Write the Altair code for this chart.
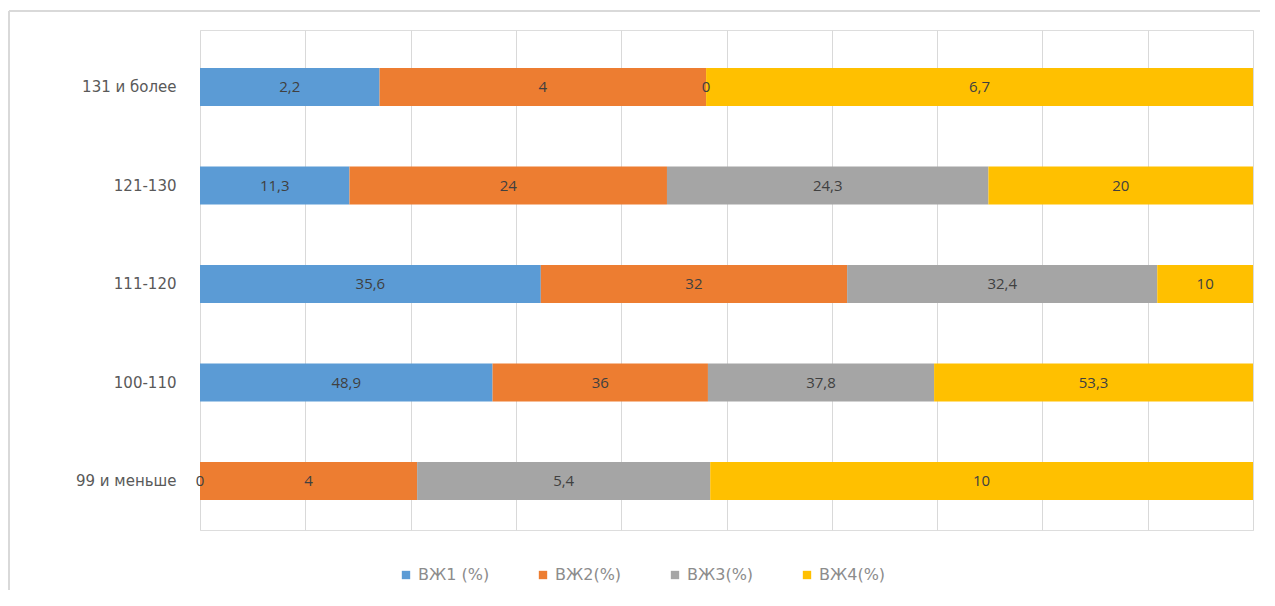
import altair as alt
import pandas as pd

categories = ["131 и более", "121-130", "111-120", "100-110", "99 и меньше"]
series = ["ВЖ1 (%)", "ВЖ2(%)", "ВЖ3(%)", "ВЖ4(%)"]
vzh1 = [2.2, 11.3, 35.6, 48.9, 0]
vzh2 = [4, 24, 32, 36, 4]
vzh3 = [0, 24.3, 32.4, 37.8, 5.4]
vzh4 = [6.7, 20, 10, 53.3, 10]
colors = ["#5B9BD5", "#ED7D31", "#A5A5A5", "#FFC000"]

rows = []
for si, (s, vals) in enumerate(zip(series, [vzh1, vzh2, vzh3, vzh4])):
    for c, v in zip(categories, vals):
        lab = (f"{v:g}").replace(".", ",")
        rows.append({"cat": c, "series": s, "order": si, "value": v, "label": lab})
df = pd.DataFrame(rows)

FONT = "Open Sans"
WIDE = "DejaVu Sans"

base = alt.Chart(df).transform_stack(
    stack="value", groupby=["cat"], as_=["x0", "x1"],
    sort=[alt.SortField("order", order="ascending")], offset="normalize"
).transform_calculate(mid="(datum.x0 + datum.x1) / 2")

yscale = alt.Scale(paddingInner=0.614, paddingOuter=0.345, align=0.56)
yenc = alt.Y("cat:N", sort=categories, title=None, scale=yscale,
             axis=alt.Axis(domain=False, ticks=False, labelFontSize=15,
                           labelColor="#595959", labelPadding=24, labelFont=WIDE))

bars = base.mark_bar().encode(
    x=alt.X("x0:Q", scale=alt.Scale(domain=[0, 1]), title=None,
            axis=alt.Axis(values=[i / 10 for i in range(11)], labels=False, ticks=False,
                          domain=False, grid=True, gridColor="#D9D9D9")),
    x2="x1:Q",
    y=yenc,
    color=alt.Color("series:N", sort=series, title=None,
                    scale=alt.Scale(domain=series, range=colors),
                    legend=alt.Legend(orient="none", legendX=198, legendY=537,
                                      direction="horizontal", padding=0,
                                      symbolType="square", symbolSize=70,
                                      labelFontSize=16, labelColor="#8C8C8C",
                                      labelFont=WIDE, columnPadding=45,
                                      symbolStrokeWidth=0)),
)

texts = base.mark_text(fontSize=15, color="#404040", font=FONT).encode(
    x="mid:Q",
    y=alt.Y("cat:N", sort=categories, scale=yscale),
    text="label:N",
)

frame_top = alt.Chart(df).mark_rule(color="#D9D9D9", strokeWidth=1.5).encode(
    x=alt.value(-191), x2=alt.value(1060), y=alt.value(-19))
frame_left = alt.Chart(df).mark_rule(color="#D9D9D9", strokeWidth=1.5).encode(
    x=alt.value(-191), y=alt.value(-19), y2=alt.value(560))

chart = (frame_top + frame_left + bars + texts).properties(
    width=1053, height=500,
    autosize=alt.AutoSizeParams(type="none"),
    padding={"left": 192, "top": 22, "right": 10, "bottom": 64},
).configure_view(stroke=None).configure(background="white")

chart.save("out.html", embed_options={"renderer": "svg", "actions": False})
